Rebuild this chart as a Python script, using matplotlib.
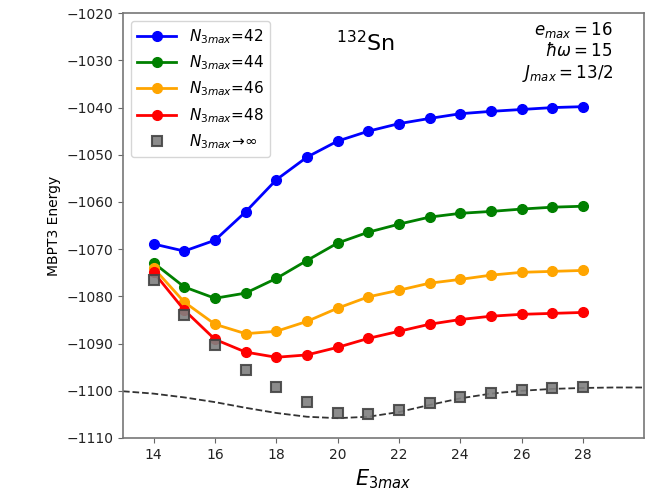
import matplotlib
matplotlib.use("Agg")
import matplotlib.pyplot as plt

e3max = [14, 15, 16, 17, 18, 19, 20, 21, 22, 23, 24, 25, 26, 27, 28]
n42 = [-1068.9, -1070.4, -1068.1, -1062.1, -1055.3, -1050.5, -1047.1, -1045.0, -1043.4, -1042.3, -1041.3, -1040.8, -1040.4, -1040.0, -1039.8]
n44 = [-1072.9, -1078.0, -1080.4, -1079.3, -1076.2, -1072.4, -1068.7, -1066.4, -1064.7, -1063.2, -1062.4, -1062.0, -1061.5, -1061.1, -1060.9]
n46 = [-1074.0, -1081.2, -1085.9, -1087.9, -1087.4, -1085.3, -1082.5, -1080.1, -1078.7, -1077.2, -1076.4, -1075.5, -1074.9, -1074.7, -1074.5]
n48 = [-1074.9, -1082.9, -1089.1, -1091.8, -1092.9, -1092.4, -1090.8, -1088.9, -1087.4, -1085.9, -1084.9, -1084.2, -1083.8, -1083.6, -1083.4]
ninf = [-1076.6, -1084.0, -1090.3, -1095.7, -1099.3, -1102.4, -1104.7, -1105.0, -1104.1, -1102.6, -1101.3, -1100.4, -1099.8, -1099.4, -1099.2]

fit_x = [13, 14, 15, 16, 17, 18, 19, 20, 21, 22, 23, 24, 25, 26, 27, 28, 29, 30]
fit_y = [-1100.1, -1100.6, -1101.4, -1102.4, -1103.6, -1104.7, -1105.5, -1105.8, -1105.5, -1104.5, -1103.0, -1101.6, -1100.6, -1100.0, -1099.6, -1099.4, -1099.3, -1099.3]

labels = [r"$N_{3max}$=42", r"$N_{3max}$=44", r"$N_{3max}$=46", r"$N_{3max}$=48"]
colors = ["blue", "green", "orange", "red"]

fig = plt.figure(figsize=(6.54, 4.98), dpi=100)
ax = fig.add_axes([0.188, 0.1205, 0.797, 0.853])

for ys, c, lab in zip([n42, n44, n46, n48], colors, labels):
    ax.plot(e3max, ys, "-o", color=c, lw=2, ms=7, label=lab)

ax.plot(fit_x, fit_y, "--", color="black", lw=1.3, alpha=0.8)
ax.plot(e3max, ninf, "s", color="gray", mec="#444444", mew=1.5, ms=7.5, ls="none",
        label=r"$N_{3max}\!\to\!\infty$", alpha=0.9)

ax.set_xlim(13, 30)
ax.set_ylim(-1110, -1020)
ax.set_xticks(range(14, 29, 2))
ax.set_yticks(range(-1110, -1019, 10))
ax.tick_params(labelsize=10, color="#666666", labelcolor="#222222")
for s in ax.spines.values():
    s.set_color("#777777")
    s.set_linewidth(1.2)

ax.set_xlabel(r"$E_{3max}$", fontsize=15)
ax.set_ylabel("MBPT3 Energy", fontsize=10)

ax.text(0.465, 0.93, r"$^{132}$Sn", transform=ax.transAxes, fontsize=16, ha="center", va="center")
ax.text(0.94, 0.985, "$e_{max}=16$\n$\\hbar\\omega=15$\n$J_{max}=13/2$", transform=ax.transAxes,
        fontsize=12, ha="right", va="top", linespacing=1.2)

ax.legend(loc="upper left", fontsize=11, frameon=True, handlelength=2.6,
          labelspacing=0.5, borderaxespad=0.5)

fig.savefig("out.png", dpi=100)
